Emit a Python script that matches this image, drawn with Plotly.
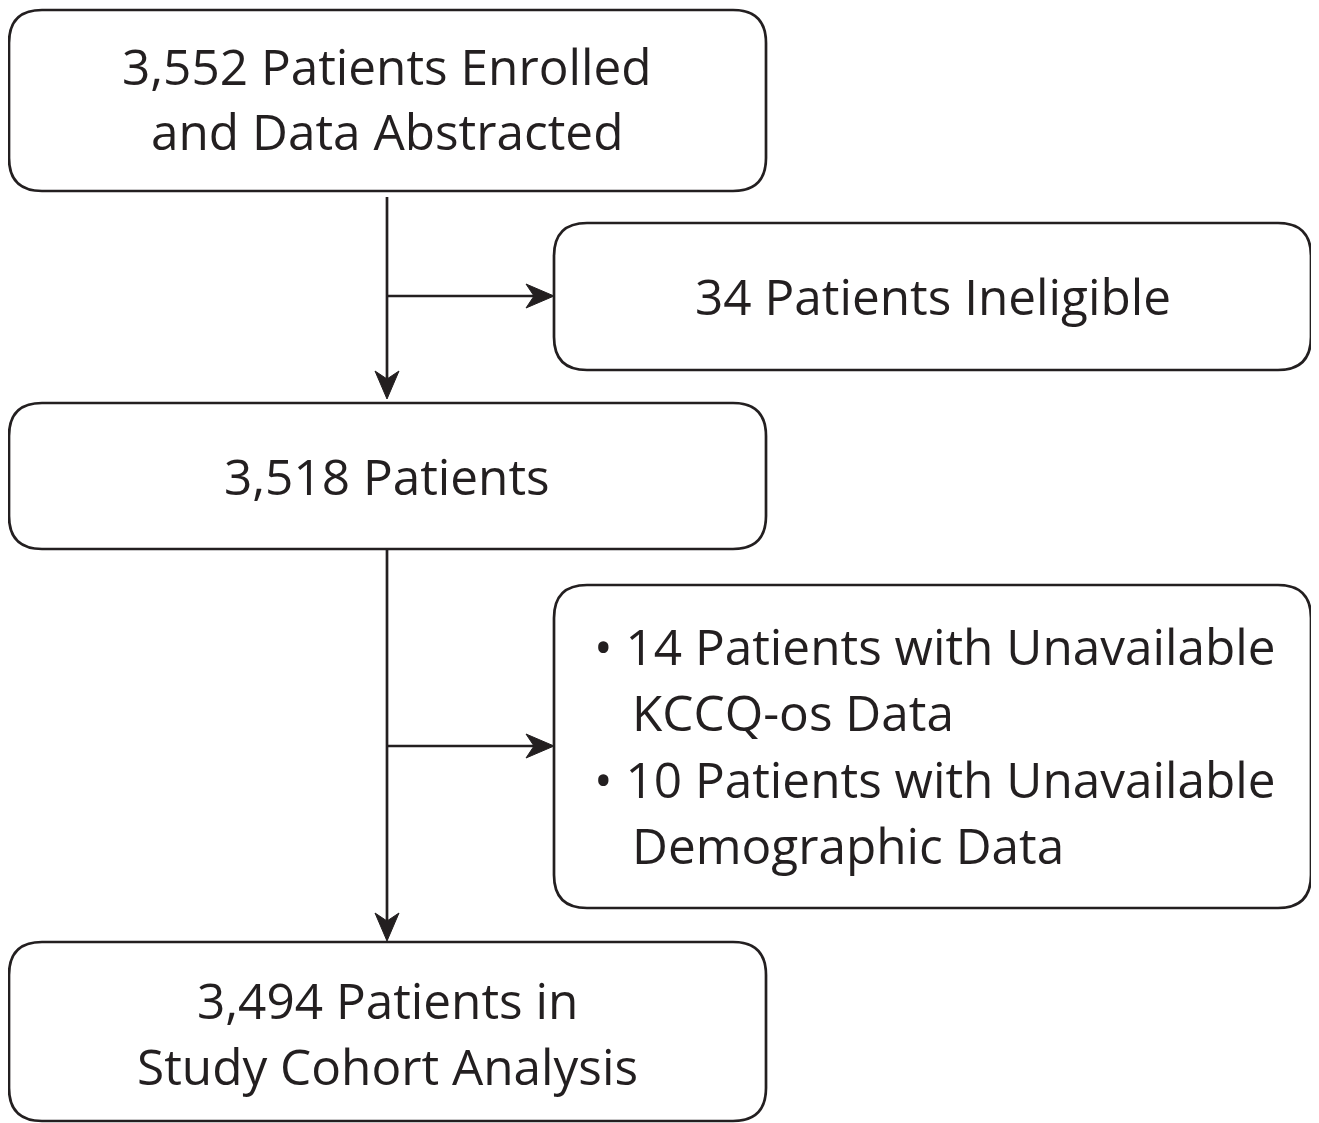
import plotly.graph_objects as go

W, H = 1319, 1123
OFF = 8  # page body margin

# Flow text
enrolled_lines = ["3,552 Patients Enrolled", "and Data Abstracted"]
ineligible_lines = ["34 Patients Ineligible"]
patients_lines = ["3,518 Patients"]
excluded_lines = ["• 14 Patients with Unavailable", "KCCQ-os Data",
                  "• 10 Patients with Unavailable", "Demographic Data"]
cohort_lines = ["3,494 Patients in", "Study Cohort Analysis"]

INK = "#231f20"
FONT = "Open Sans"
FS = 49.5

fig = go.Figure()
shapes = []
annotations = []

def rbox(x0, y0, x1, y1, r=33):
    p = (f"M {x0+r},{y0} L {x1-r},{y0} Q {x1},{y0} {x1},{y0+r} "
         f"L {x1},{y1-r} Q {x1},{y1} {x1-r},{y1} L {x0+r},{y1} "
         f"Q {x0},{y1} {x0},{y1-r} L {x0},{y0+r} Q {x0},{y0} {x0+r},{y0} Z")
    shapes.append(dict(type="path", path=p, xref="x", yref="y",
                       line=dict(color=INK, width=2.7), fillcolor="white"))

def line(x0, y0, x1, y1):
    shapes.append(dict(type="line", x0=x0, y0=y0, x1=x1, y1=y1, xref="x", yref="y",
                       line=dict(color=INK, width=2.7)))

def head_down(x, y, w=12, l=28):
    p = f"M {x},{y} L {x-w},{y-l} L {x},{y-l+8} L {x+w},{y-l} Z"
    shapes.append(dict(type="path", path=p, xref="x", yref="y",
                       line=dict(color=INK, width=1), fillcolor=INK))

def head_right(x, y, w=12, l=28):
    p = f"M {x},{y} L {x-l},{y-w} L {x-l+8},{y} L {x-l},{y+w} Z"
    shapes.append(dict(type="path", path=p, xref="x", yref="y",
                       line=dict(color=INK, width=1), fillcolor=INK))

def text(x, y, s, anchor="center"):
    annotations.append(dict(x=x, y=y, xref="x", yref="y", text=s, showarrow=False,
                            xanchor=anchor, yanchor="middle",
                            font=dict(family=FONT, size=FS, color=INK)))

# connectors
line(387, 197, 387, 390)
head_down(387, 399)
line(387, 296, 545, 296)
head_right(554, 296)
line(387, 549, 387, 932)
head_down(387, 941)
line(387, 746, 545, 746)
head_right(554, 746)

# boxes
rbox(9, 10, 766, 191)
rbox(554, 223, 1311, 370)
rbox(9, 403, 766, 549)
rbox(554, 585, 1311, 908)
rbox(9, 942, 766, 1121)

for s, y in zip(enrolled_lines, [66, 131]):
    text(387, y, s)
text(933, 296, ineligible_lines[0])
text(387, 476, patients_lines[0])
for s, y, x in zip(excluded_lines, [646, 712, 779, 845], [592, 630, 592, 630]):
    text(x, y, s, anchor="left")
for s, y in zip(cohort_lines, [1000, 1066]):
    text(387, y, s)

fig.update_layout(
    width=W, height=H, margin=dict(l=0, r=0, t=0, b=0),
    paper_bgcolor="white", plot_bgcolor="white",
    xaxis=dict(range=[OFF, W + OFF], visible=False, fixedrange=True),
    yaxis=dict(range=[H + OFF, OFF], visible=False, fixedrange=True),
    shapes=shapes, annotations=annotations, showlegend=False,
)
fig.write_html("out.html")
